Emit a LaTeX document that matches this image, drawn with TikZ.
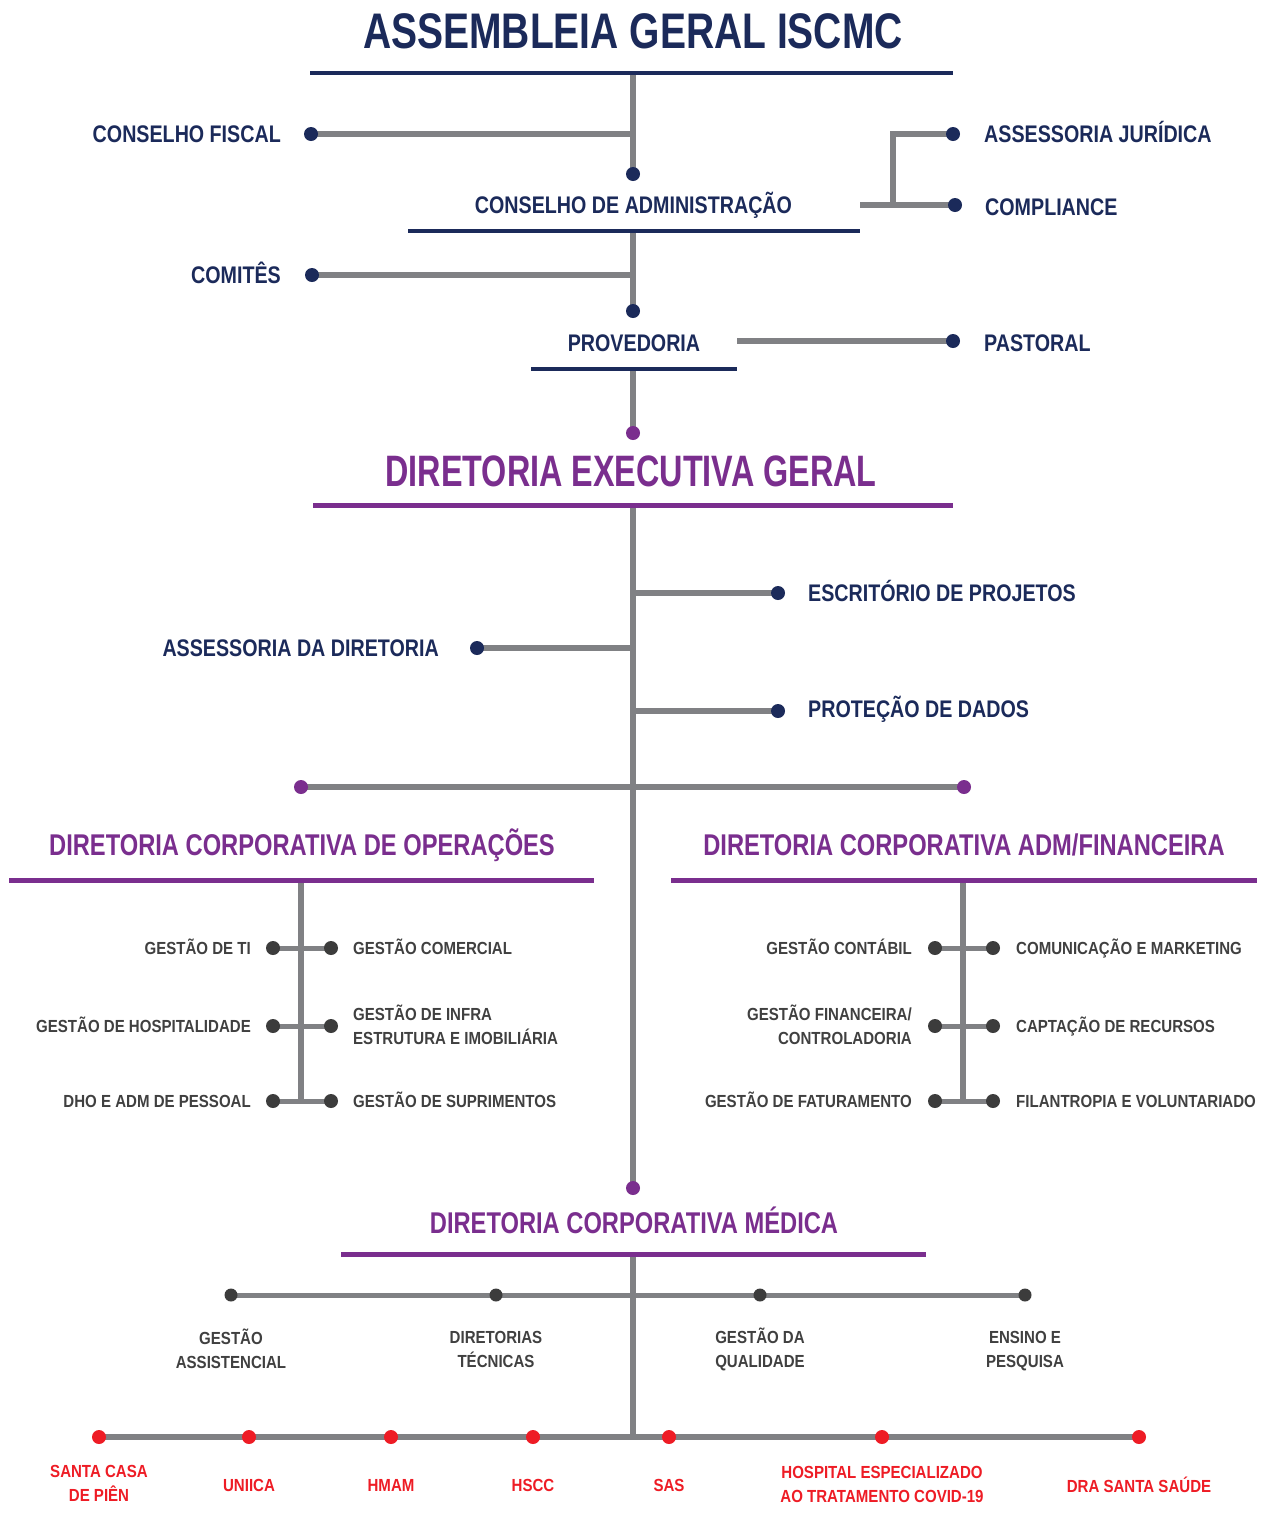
\documentclass[tikz,border=0pt]{standalone}
\usepackage{fontspec}
\usetikzlibrary{backgrounds}
\setmainfont{Liberation Sans}
\newfontfamily\fTitle[FakeStretch=0.78]{Liberation Sans}
\newfontfamily\fDeg[FakeStretch=0.735]{Liberation Sans}
\newfontfamily\fCorp[FakeStretch=0.79]{Liberation Sans}
\newfontfamily\fNavy[FakeStretch=0.82]{Liberation Sans}
\newfontfamily\fSub[FakeStretch=0.86]{Liberation Sans}
\definecolor{navy}{HTML}{1B2A5A}
\definecolor{purp}{HTML}{7A2E8E}
\definecolor{gline}{HTML}{808184}
\definecolor{dtext}{HTML}{404040}
\definecolor{ddot}{HTML}{3C3C3C}
\definecolor{rred}{HTML}{EE1C25}
\begin{document}
\begin{tikzpicture}[x=1pt,y=-1pt,
  ttl/.style={font=\fTitle\bfseries\fontsize{50}{56}\selectfont, text=navy, inner sep=0, text height=35pt, text depth=0pt},
  nlbl/.style={font=\fNavy\bfseries\fontsize{24}{28}\selectfont, text=navy, inner sep=0, text height=16.8pt, text depth=0pt},
  deg/.style={font=\fDeg\bfseries\fontsize{44}{50}\selectfont, text=purp, inner sep=0, text height=30.8pt, text depth=0pt},
  corp/.style={font=\fCorp\bfseries\fontsize{30}{34}\selectfont, text=purp, inner sep=0, text height=21pt, text depth=0pt},
  slbl/.style={font=\fSub\bfseries\fontsize{17.5}{24}\selectfont, text=dtext, inner sep=0, text height=12.25pt, text depth=0pt},
  mlbl/.style={font=\fSub\bfseries\fontsize{17.5}{24}\selectfont, text=dtext, inner sep=0},
  rlbl/.style={font=\fSub\bfseries\fontsize{17.5}{24}\selectfont, text=rred, inner sep=0},
  gl/.style={draw=gline, line width=6pt},
  gls/.style={draw=gline, line width=5pt},
  nul/.style={draw=navy, line width=4.5pt},
  pul/.style={draw=purp, line width=5pt},
  ndot/.style={circle, fill=navy, inner sep=0, minimum size=14pt},
  pdot/.style={circle, fill=purp, inner sep=0, minimum size=14pt},
  sdot/.style={circle, fill=ddot, inner sep=0, minimum size=14pt},
  mdot/.style={circle, fill=ddot, inner sep=0, minimum size=13pt},
  rdot/.style={circle, fill=rred, inner sep=0, minimum size=14pt}
]
\useasboundingbox (0,0) rectangle (1271,1513);

% ---------- coordinates ----------
\coordinate (agL) at (310,73);  \coordinate (agR) at (953,73);  \coordinate (agM) at (633,73);
\coordinate (caL) at (408,231); \coordinate (caR) at (860,231); \coordinate (caM) at (633,231);
\coordinate (caE) at (860,205); \coordinate (caJ) at (893,205);
\coordinate (prL) at (531,369); \coordinate (prR) at (737,369); \coordinate (prM) at (633,369);
\coordinate (prE) at (737,341);
\coordinate (dgL) at (313,505); \coordinate (dgR) at (953,505); \coordinate (dgM) at (633,505);
\coordinate (opL) at (9,880);   \coordinate (opR) at (594,880); \coordinate (opM) at (301,880);
\coordinate (afL) at (671,880); \coordinate (afR) at (1257,880); \coordinate (afM) at (963,880);
\coordinate (mdL) at (341,1254); \coordinate (mdR) at (926,1254); \coordinate (mdM) at (633,1254);
\coordinate (rdH) at (633,1437);

% ---------- texts ----------
\node[ttl] (ag) at (633,30.5) {ASSEMBLEIA GERAL ISCMC};
\node[nlbl, anchor=east] (cf) at (281,134) {CONSELHO FISCAL};
\node[nlbl] (ca) at (633.5,205) {CONSELHO DE ADMINISTRAÇÃO};
\node[nlbl, anchor=west] (aj) at (984,134) {ASSESSORIA JURÍDICA};
\node[nlbl, anchor=west] (co) at (985,207) {COMPLIANCE};
\node[nlbl, anchor=east] (cm) at (281,275) {COMITÊS};
\node[nlbl] (pr) at (634,343) {PROVEDORIA};
\node[nlbl, anchor=west] (pa) at (984,343) {PASTORAL};
\node[deg] (dg) at (631,471) {DIRETORIA EXECUTIVA GERAL};
\node[nlbl, anchor=west] (ep) at (808,593) {ESCRITÓRIO DE PROJETOS};
\node[nlbl, anchor=east] (ad) at (439,648) {ASSESSORIA DA DIRETORIA};
\node[nlbl, anchor=west] (pd) at (808,709) {PROTEÇÃO DE DADOS};
\node[corp] (op) at (302,845) {DIRETORIA CORPORATIVA DE OPERAÇÕES};
\node[corp] (af) at (964,845) {DIRETORIA CORPORATIVA ADM/FINANCEIRA};
\node[corp] (md) at (634,1223) {DIRETORIA CORPORATIVA MÉDICA};

\node[slbl, anchor=east] (ti) at (251,948) {GESTÃO DE TI};
\node[slbl, anchor=east] (ho) at (251,1026) {GESTÃO DE HOSPITALIDADE};
\node[slbl, anchor=east] (dh) at (251,1101) {DHO E ADM DE PESSOAL};
\node[slbl, anchor=west] (gc) at (353,948) {GESTÃO COMERCIAL};
\node[mlbl, anchor=west, align=left] (gi) at (353,1025) {GESTÃO DE INFRA\\ESTRUTURA E IMOBILIÁRIA};
\node[slbl, anchor=west] (gs) at (353,1101) {GESTÃO DE SUPRIMENTOS};

\node[slbl, anchor=east] (ct) at (912,948) {GESTÃO CONTÁBIL};
\node[mlbl, anchor=east, align=right] (gf) at (912,1025) {GESTÃO FINANCEIRA/\\CONTROLADORIA};
\node[slbl, anchor=east] (ft) at (912,1101) {GESTÃO DE FATURAMENTO};
\node[slbl, anchor=west] (cmk) at (1016,948) {COMUNICAÇÃO E MARKETING};
\node[slbl, anchor=west] (cr) at (1016,1026) {CAPTAÇÃO DE RECURSOS};
\node[slbl, anchor=west] (fv) at (1016,1101) {FILANTROPIA E VOLUNTARIADO};

\node[mlbl, align=center] (ga) at (231,1349) {GESTÃO\\ASSISTENCIAL};
\node[mlbl, align=center] (dt) at (496,1349) {DIRETORIAS\\TÉCNICAS};
\node[mlbl, align=center] (gq) at (760,1349) {GESTÃO DA\\QUALIDADE};
\node[mlbl, align=center] (en) at (1025,1351.5) {ENSINO E\\PESQUISA};

\node[rlbl, align=center] (sc) at (99,1483) {SANTA CASA\\DE PIÊN};
\node[rlbl] (un) at (249,1485) {UNIICA};
\node[rlbl] (hm) at (391,1485) {HMAM};
\node[rlbl] (hs) at (533,1485) {HSCC};
\node[rlbl] (sa) at (669,1485) {SAS};
\node[rlbl, align=center] (he) at (882,1484.5) {HOSPITAL ESPECIALIZADO\\AO TRATAMENTO COVID-19};
\node[rlbl] (ds) at (1139,1485) {DRA SANTA SAÚDE};

% ---------- dots ----------
\node[ndot] (d-ca) at (633,174) {};
\node[ndot] (d-cf) at (311,134) {};
\node[ndot] (d-aj) at (953,134) {};
\node[ndot] (d-co) at (955,205) {};
\node[ndot] (d-cm) at (312,275) {};
\node[ndot] (d-pr) at (633,311) {};
\node[ndot] (d-pa) at (953,341) {};
\node[pdot] (d-dg) at (633,433) {};
\node[ndot] (d-ep) at (778,593) {};
\node[ndot] (d-ad) at (477,648) {};
\node[ndot] (d-pd) at (778,711) {};
\node[pdot] (d-op) at (301,787) {};
\node[pdot] (d-af) at (964,787) {};
\node[pdot] (d-mp) at (633,1188) {};
\foreach \y/\n in {948/a,1026/b,1101/c}{
  \node[sdot] (d-ol\n) at (273,\y) {};
  \node[sdot] (d-or\n) at (331,\y) {};
  \node[sdot] (d-fl\n) at (935,\y) {};
  \node[sdot] (d-fr\n) at (993,\y) {};
}
\foreach \x/\n in {231/a,496/b,760/c,1025/d}{
  \node[mdot] (d-m\n) at (\x,1295) {};
}
\foreach \x/\n in {99/a,249/b,391/c,533/d,669/e,882/f,1139/g}{
  \node[rdot] (d-r\n) at (\x,1437) {};
}

% ---------- connectors (behind dots) ----------
\begin{pgfonlayer}{background}
\fill[white] (0,0) rectangle (1271,1513);
% main vertical segments
\draw[gl] (agM) -- (d-ca.center);
\draw[gl] (caM) -- (d-pr.center);
\draw[gl] (prM) -- (d-dg.center);
\draw[gl] (dgM) -- (d-mp.center);
\draw[gl] (mdM) -- (rdH);
% side branches top
\draw[gl] (d-cf.center) -- (d-cf.center -| agM);
\draw[gl] (d-cm.center) -- (d-cm.center -| caM);
\draw[gl, line join=miter] (caE) -- (caJ) |- (d-aj.center);
\draw[gl] (caJ) -- (d-co.center);
\draw[gl] (prE) -- (d-pa.center);
% executive branches
\draw[gl] (d-ep.center -| dgM) -- (d-ep.center);
\draw[gl] (d-ad.center) -- (d-ad.center -| dgM);
\draw[gl] (d-pd.center -| dgM) -- (d-pd.center);
\draw[gl] (d-op.center) -- (d-af.center);
% corporate sub trees
\draw[gl] (opM) -- (opM |- d-olc.center);
\draw[gl] (afM) -- (afM |- d-flc.center);
\foreach \n in {a,b,c}{
  \draw[gls] (d-ol\n.center) -- (d-or\n.center);
  \draw[gls] (d-fl\n.center) -- (d-fr\n.center);
}
% medical
\draw[gls] (d-ma.center) -- (d-md.center);
\draw[gl] (d-ra.center) -- (d-rg.center);
% underlines
\draw[nul] (agL) -- (agR);
\draw[nul] (caL) -- (caR);
\draw[nul] (prL) -- (prR);
\draw[pul] (dgL) -- (dgR);
\draw[pul] (opL) -- (opR);
\draw[pul] (afL) -- (afR);
\draw[pul] (mdL) -- (mdR);
\end{pgfonlayer}
\end{tikzpicture}
\end{document}
